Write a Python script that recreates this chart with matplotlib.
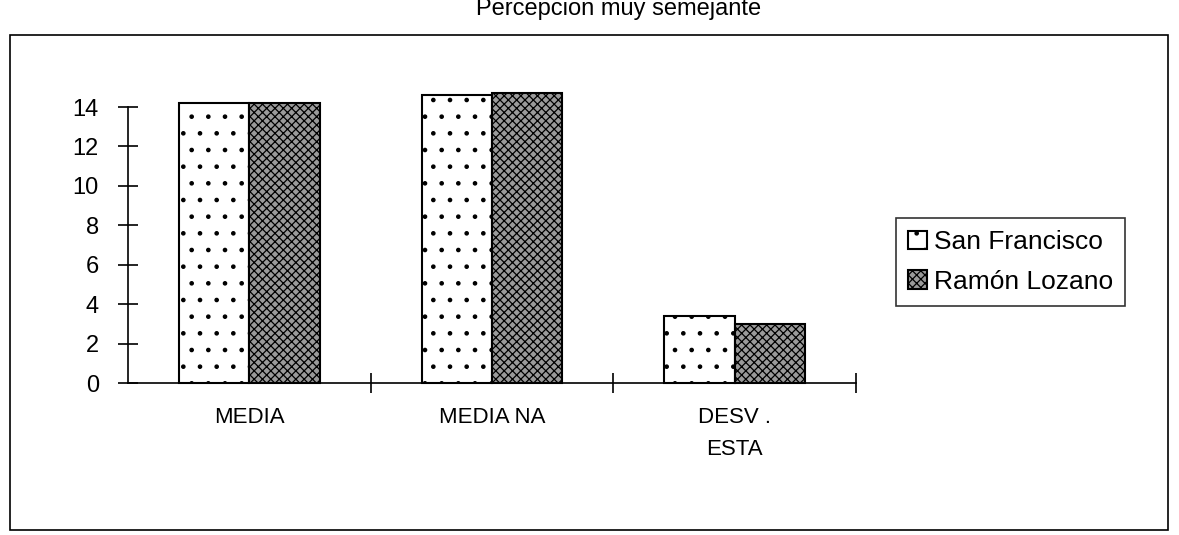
import matplotlib.pyplot as plt
import numpy as np
from matplotlib.patches import Rectangle

categories = ['MEDIA', 'MEDIA NA', 'DESV .\nESTA']
san_francisco = [14.2, 14.6, 3.4]
ramon_lozano = [14.2, 14.7, 3.0]

plt.rcParams['font.family'] = ['Liberation Sans', 'DejaVu Sans']
plt.rcParams['hatch.linewidth'] = 0.9

fig = plt.figure(figsize=(11.79, 5.35), dpi=100)
ax = fig.add_axes([0.1086, 0.284, 0.6175, 0.516])

x = np.arange(len(categories))
w = 0.29
b1 = ax.bar(x - w / 2, san_francisco, w, color='white', edgecolor='black',
            linewidth=1.5, hatch='.', clip_on=False, label='San Francisco')
b2 = ax.bar(x + w / 2, ramon_lozano, w, color='#9a9a9a', edgecolor='black',
            linewidth=1.5, hatch='xxxx', clip_on=False, label='Ramón Lozano')

ax.set_xlim(-0.5, 2.5)
ax.set_ylim(0, 14)
ax.set_yticks(range(0, 15, 2))
ax.tick_params(axis='y', direction='inout', length=14, width=1.2, labelsize=17, pad=14)
ax.set_xticks(x)
ax.set_xticklabels(categories, fontsize=16, linespacing=1.7)
ax.tick_params(axis='x', which='major', length=0, pad=17)
ax.set_xticks([0.5, 1.5, 2.5], minor=True)
ax.tick_params(axis='x', which='minor', direction='inout', length=14, width=1.2)
ax.spines['top'].set_visible(False)
ax.spines['right'].set_visible(False)
ax.spines['left'].set_linewidth(1.2)
ax.spines['bottom'].set_linewidth(1.2)

leg = fig.legend(handles=[b1, b2], loc='upper left',
                 bbox_to_anchor=(883 / 1179, 1 - 205 / 535), fontsize=19,
                 frameon=True, fancybox=False, edgecolor='black',
                 handlelength=0.7, handleheight=0.7, handletextpad=0.3,
                 labelspacing=0.6, borderpad=0.45)
leg.get_frame().set_linewidth(1.2)

# outer chart frame
fig.patches.append(Rectangle((10 / 1179, 1 - 530 / 535), 1158 / 1179, 495 / 535,
                             transform=fig.transFigure, fill=False,
                             edgecolor='black', linewidth=1.2))

fig.text(0.525, 1 - 9 / 535, 'Percepcion muy semejante', ha='center', va='center',
         fontsize=17)

fig.savefig('out.png', dpi=100)
